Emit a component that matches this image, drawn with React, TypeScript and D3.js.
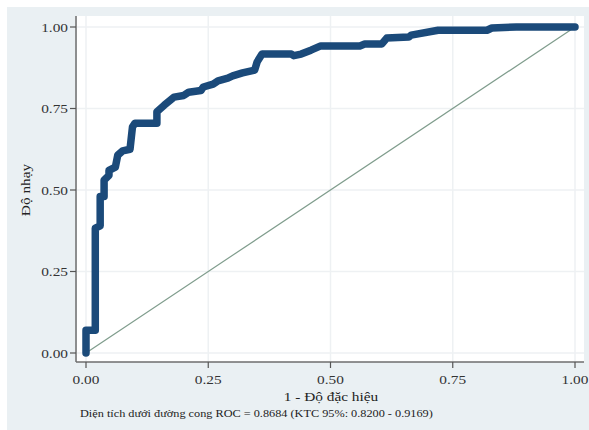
import React from "react";
import * as d3 from "d3";

const fpr = [0, 0, 0.019, 0.019, 0.029, 0.029, 0.037, 0.037, 0.047, 0.047, 0.06, 0.065, 0.075, 0.09, 0.095, 0.1, 0.145, 0.145, 0.16, 0.18, 0.2, 0.21, 0.235, 0.24, 0.26, 0.27, 0.29, 0.3, 0.32, 0.345, 0.35, 0.36, 0.42, 0.425, 0.44, 0.46, 0.48, 0.56, 0.57, 0.605, 0.615, 0.66, 0.665, 0.72, 0.82, 0.83, 0.88, 1];
const tpr = [0, 0.07, 0.07, 0.383, 0.39, 0.48, 0.48, 0.53, 0.545, 0.56, 0.57, 0.607, 0.62, 0.625, 0.693, 0.705, 0.705, 0.74, 0.76, 0.785, 0.79, 0.8, 0.805, 0.816, 0.825, 0.835, 0.843, 0.85, 0.859, 0.868, 0.893, 0.917, 0.917, 0.912, 0.917, 0.929, 0.942, 0.942, 0.948, 0.948, 0.966, 0.969, 0.975, 0.99, 0.99, 0.997, 1, 1];
const ticks = [0, 0.25, 0.5, 0.75, 1];
const xTitle = "1 - Độ đặc hiệu";
const yTitle = "Độ nhạy";
const footnote = "Diện tích dưới đường cong ROC = 0.8684 (KTC 95%: 0.8200 - 0.9169)";

const W = 589, H = 430;
const SERIF = "'Liberation Serif', 'Times New Roman', serif";
const SX = 1.18;

export default function App() {
  const x = d3.scaleLinear().domain([0, 1]).range([86, 575]);
  const y = d3.scaleLinear().domain([0, 1]).range([353, 27]);
  const pts = fpr.map((f, i) => [f, tpr[i]] as [number, number]);
  const line = d3.line<[number, number]>().x(d => x(d[0])).y(d => y(d[1]));
  const fmt = d3.format(".2f");
  const plotL = 77, plotR = 584, plotT = 16, plotB = 362;
  return (
    <svg width={W} height={H} style={{ position: "absolute", left: 0, top: 0 }}>
      <rect x={7} y={7} width={W - 7} height={H - 7} fill="#eaf0f3" />
      <rect x={plotL} y={plotT} width={plotR - plotL} height={plotB - plotT} fill="#ffffff" />
      {ticks.map(t => (
        <g key={"g" + t}>
          <line x1={plotL} x2={plotR} y1={y(t)} y2={y(t)} stroke="#eef1f3" strokeWidth={1.5} />
          <line x1={x(t)} x2={x(t)} y1={plotT} y2={plotB} stroke="#eef1f3" strokeWidth={1.5} />
        </g>
      ))}
      <line x1={x(0)} y1={y(0)} x2={x(1)} y2={y(1)} stroke="#7f9c8c" strokeWidth={1.2} />
      <path d={line(pts) || ""} fill="none" stroke="#1b4a7a" strokeWidth={7.5} strokeLinejoin="round" strokeLinecap="round" />
      <line x1={76} x2={76} y1={plotT} y2={plotB} stroke="#6e6e6e" strokeWidth={1.5} />
      <line x1={76} x2={plotR} y1={plotB} y2={plotB} stroke="#6e6e6e" strokeWidth={1.5} />
      {ticks.map(t => (
        <g key={"y" + t}>
          <line x1={70} x2={76} y1={y(t)} y2={y(t)} stroke="#555" strokeWidth={1.2} />
          <text transform={`translate(68,${y(t) + 4.5}) scale(${SX},1)`} textAnchor="end" fontFamily={SERIF} fontSize={13} fill="#333">{fmt(t)}</text>
        </g>
      ))}
      {ticks.map(t => (
        <g key={"x" + t}>
          <line x1={x(t)} x2={x(t)} y1={plotB} y2={plotB + 6} stroke="#555" strokeWidth={1.2} />
          <text transform={`translate(${x(t)},${plotB + 22}) scale(${SX},1)`} textAnchor="middle" fontFamily={SERIF} fontSize={13} fill="#333">{fmt(t)}</text>
        </g>
      ))}
      <text transform={`translate(331,401) scale(${SX},1)`} textAnchor="middle" fontFamily={SERIF} fontSize={13} fill="#222">{xTitle}</text>
      <text transform={`translate(30,190) rotate(-90) scale(${SX},1)`} textAnchor="middle" fontFamily={SERIF} fontSize={13} fill="#222">{yTitle}</text>
      <text transform={`translate(80,417) scale(${SX},1)`} textAnchor="start" fontFamily={SERIF} fontSize={10.4} fill="#222">{footnote}</text>
    </svg>
  );
}
